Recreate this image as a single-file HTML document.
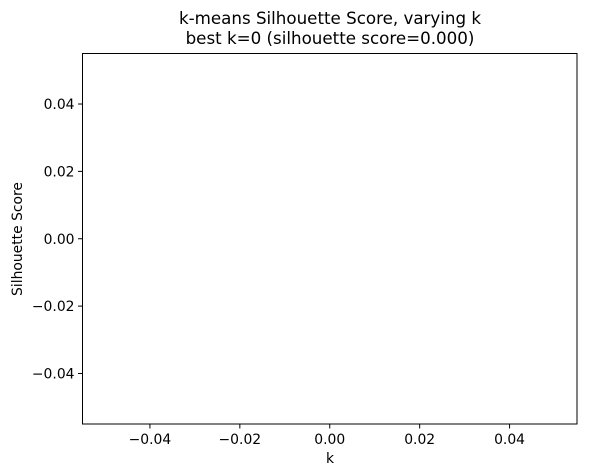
<!DOCTYPE html>
<html><head><meta charset="utf-8"><style>
body{margin:0;background:#fff;}
svg{display:block;font-family:"DejaVu Sans","Liberation Sans",sans-serif;}
</style></head><body>
<svg id="chart" width="591" height="476">
<text x="330" y="24" text-anchor="middle" font-size="16.7">k-means Silhouette Score, varying k</text>
<text x="330" y="44" text-anchor="middle" font-size="16.7">best k=0 (silhouette score=0.000)</text>
<rect x="82.5" y="53.5" width="494.5" height="370.5" fill="none" stroke="#000" stroke-width="1"/>
<g id="xticks"></g>
<g id="yticks"></g>
<text x="330" y="463" text-anchor="middle" font-size="13.9">k</text>
<text transform="translate(22,239) rotate(-90)" text-anchor="middle" font-size="13.9">Silhouette Score</text>
</svg>
<script>
const kValues = [];
const scores = [];
const xTickValues = [-0.04, -0.02, 0.00, 0.02, 0.04];
const xTickLabels = ["\u22120.04", "\u22120.02", "0.00", "0.02", "0.04"];
const yTickValues = [0.04, 0.02, 0.00, -0.02, -0.04];
const yTickLabels = ["0.04", "0.02", "0.00", "\u22120.02", "\u22120.04"];
const xMin=-0.055,xMax=0.055,yMin=-0.055,yMax=0.055;
const L=82.5,R=577,T=53.5,B=424;
const sx=v=>L+(v-xMin)/(xMax-xMin)*(R-L);
const sy=v=>B-(v-yMin)/(yMax-yMin)*(B-T);
const NS="http://www.w3.org/2000/svg";
const xg=document.getElementById('xticks'), yg=document.getElementById('yticks');
xTickValues.forEach((v,i)=>{
  const x=sx(v);
  const l=document.createElementNS(NS,'line');
  l.setAttribute('x1',x);l.setAttribute('x2',x);l.setAttribute('y1',B);l.setAttribute('y2',B+4.5);l.setAttribute('stroke','#000');
  
  
  xg.appendChild(l);
  const t=document.createElementNS(NS,'text');
  t.setAttribute('x',x);t.setAttribute('y',B+20);t.setAttribute('text-anchor','middle');t.setAttribute('font-size','13.9');
  t.textContent=xTickLabels[i];
  
  
  xg.appendChild(t);
});
yTickValues.forEach((v,i)=>{
  const y=sy(v);
  const l=document.createElementNS(NS,'line');
  l.setAttribute('x1',L-4.5);l.setAttribute('x2',L);l.setAttribute('y1',y);l.setAttribute('y2',y);l.setAttribute('stroke','#000');
  
  
  yg.appendChild(l);
  const t=document.createElementNS(NS,'text');
  t.setAttribute('x',L-8);t.setAttribute('y',y+5);t.setAttribute('text-anchor','end');t.setAttribute('font-size','13.9');
  t.textContent=yTickLabels[i];
  
  
  yg.appendChild(t);
});
const svg=document.getElementById('chart');
if(kValues.length){
  const p=document.createElementNS(NS,'polyline');
  p.setAttribute('points',kValues.map((k,i)=>sx(k)+','+sy(scores[i])).join(' '));
  p.setAttribute('fill','none');p.setAttribute('stroke','#1f77b4');p.setAttribute('stroke-width','1.5');
  
  
  svg.appendChild(p);
}
</script>
</body></html>
